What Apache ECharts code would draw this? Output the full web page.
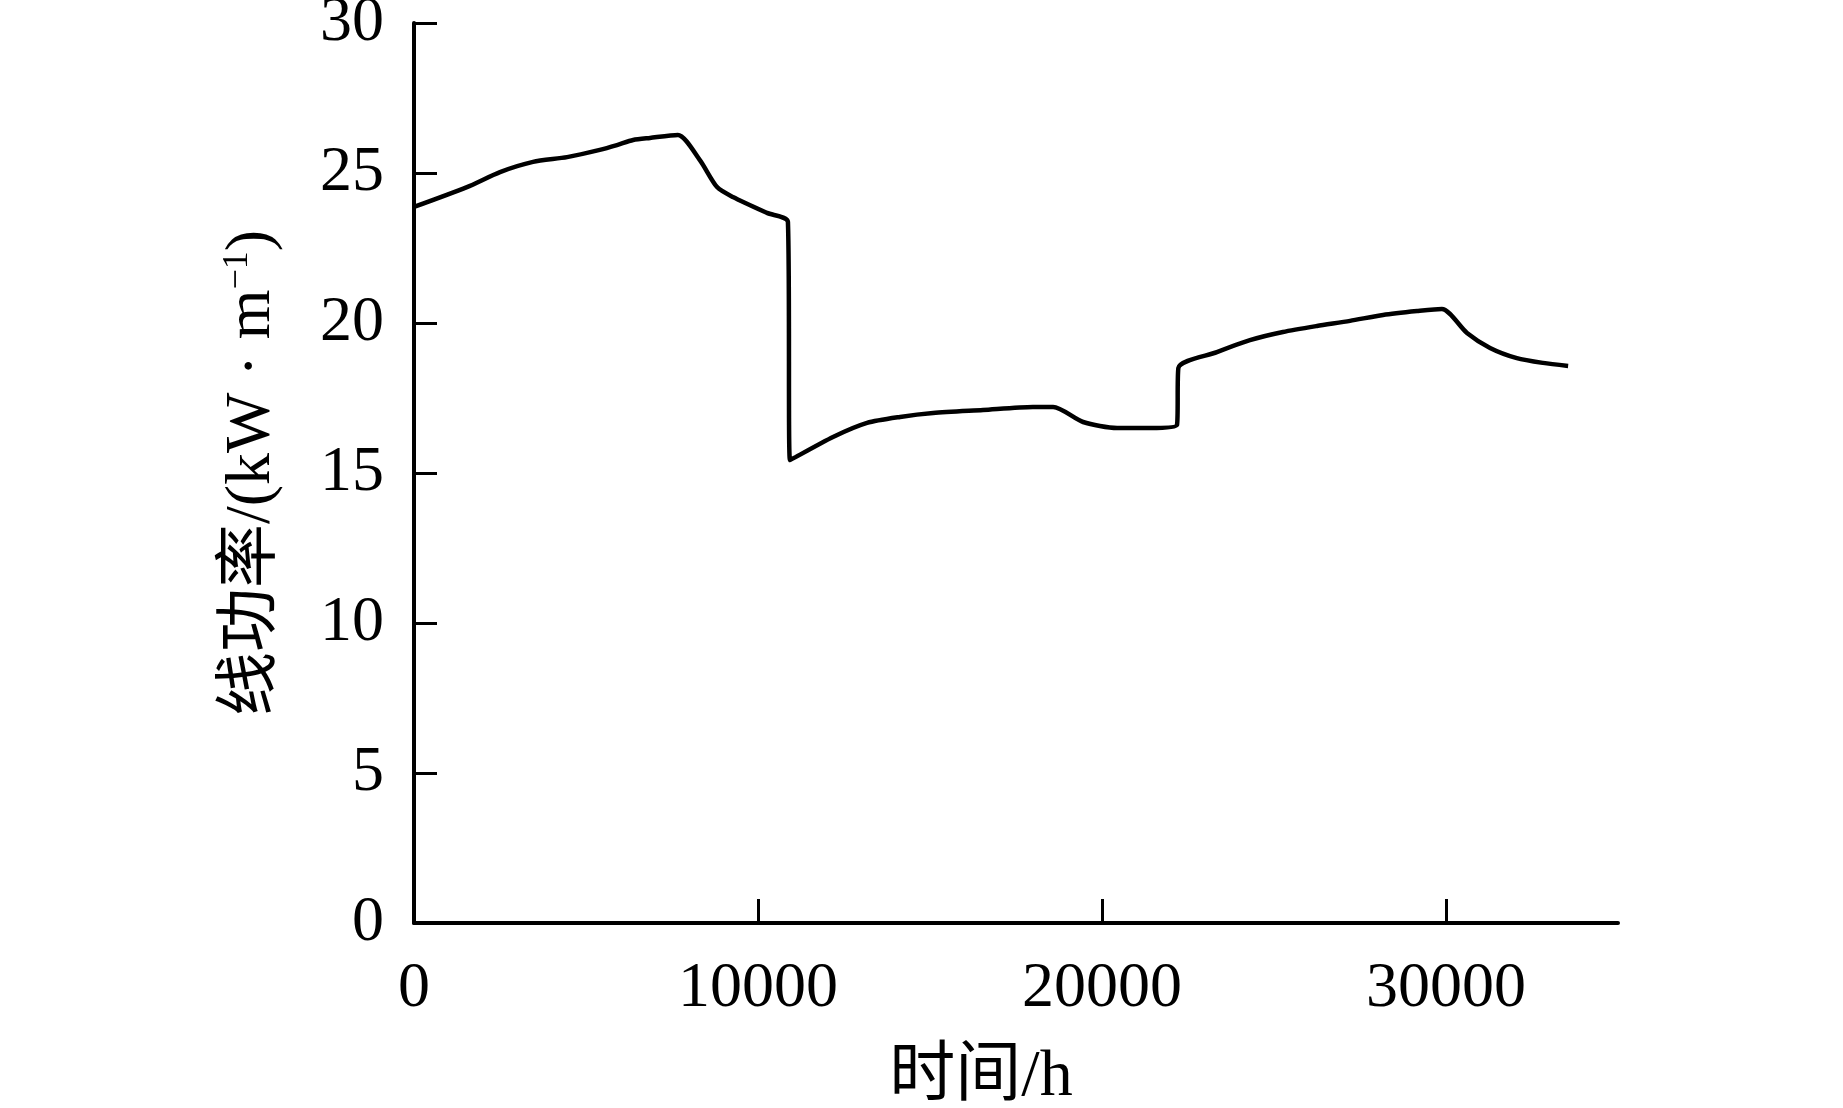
<!DOCTYPE html>
<html>
<head>
<meta charset="utf-8">
<script src="https://cdn.jsdelivr.net/npm/echarts@6/dist/echarts.min.js"></script>
<style>html,body{margin:0;padding:0;background:#fff;}#c{width:1843px;height:1108px;}</style>
</head>
<body>
<div id="c"></div>
<script>
const timeHours = [0, 1540, 2500, 3460, 4450, 5400, 5900, 6370, 6860, 7670, 8310, 8810, 9270, 10260, 10870,
  10930, 12180, 13170, 14130, 15090, 16540, 17990, 18580, 19450, 20440, 21400, 22180,
  22220, 23340, 24300, 25260, 26250, 27210, 28170, 29160, 29880, 30610, 31280, 32060, 32820, 33550];
const linePower = [23.87, 24.53, 25.03, 25.37, 25.53, 25.77, 25.93, 26.1, 26.17, 26.27, 25.43, 24.53, 24.2, 23.67, 23.37,
  15.43, 16.2, 16.67, 16.87, 17.0, 17.1, 17.2, 17.2, 16.7, 16.5, 16.5, 16.6,
  18.5, 19.03, 19.43, 19.7, 19.9, 20.07, 20.27, 20.4, 20.47, 19.67, 19.17, 18.83, 18.67, 18.57];
const xTicks = [0, 10000, 20000, 30000];
const yTicks = [0, 5, 10, 15, 20, 25, 30];

const serif = '"Liberation Serif", "Times New Roman", "Noto Sans CJK SC", serif';
const chart = echarts.init(document.getElementById('c'));
chart.setOption({
  animation: false,
  grid: { left: 414, right: 225, top: 23, bottom: 185, containLabel: false, outerBoundsMode: 'none' },
  xAxis: {
    type: 'value', min: 0, max: 35000, interval: 10000,
    name: '时间/h', nameLocation: 'middle', nameGap: 122,
    nameTextStyle: { color: '#000', fontFamily: serif, fontSize: 66, padding: [0, 70, 0, 0] },
    axisLine: { show: true, lineStyle: { color: '#000', width: 4 } },
    axisTick: { show: true, inside: true, length: 24, customValues: xTicks, lineStyle: { color: '#000', width: 3 } },
    axisLabel: { color: '#000', fontFamily: serif, fontSize: 64, margin: 34, customValues: xTicks,
      formatter: v => String(v) },
    splitLine: { show: false }
  },
  yAxis: {
    type: 'value', min: 0, max: 30, interval: 5,
    name: '线功率/(kW · m{sup|−1})', nameLocation: 'middle', nameGap: 130, nameRotate: 90,
    nameTextStyle: { color: '#000', fontFamily: serif, fontSize: 64,
      rich: { sup: { fontFamily: serif, fontSize: 36, verticalAlign: 'top', padding: [0, 0, 24, 0], color: '#000' } } },
    axisLine: { show: true, lineStyle: { color: '#000', width: 4 } },
    axisTick: { show: true, inside: true, length: 23, customValues: yTicks, lineStyle: { color: '#000', width: 3 } },
    axisLabel: { color: '#000', fontFamily: serif, fontSize: 64, margin: 30, customValues: yTicks,
      formatter: v => String(v) },
    splitLine: { show: false }
  },
  series: [{
    type: 'line',
    data: timeHours.map((t, i) => [t, linePower[i]]),
    showSymbol: false, symbol: 'none',
    lineStyle: { color: '#000', width: 4.5, join: 'round' },
    smooth: 0.25
  }]
});
</script>
</body>
</html>
